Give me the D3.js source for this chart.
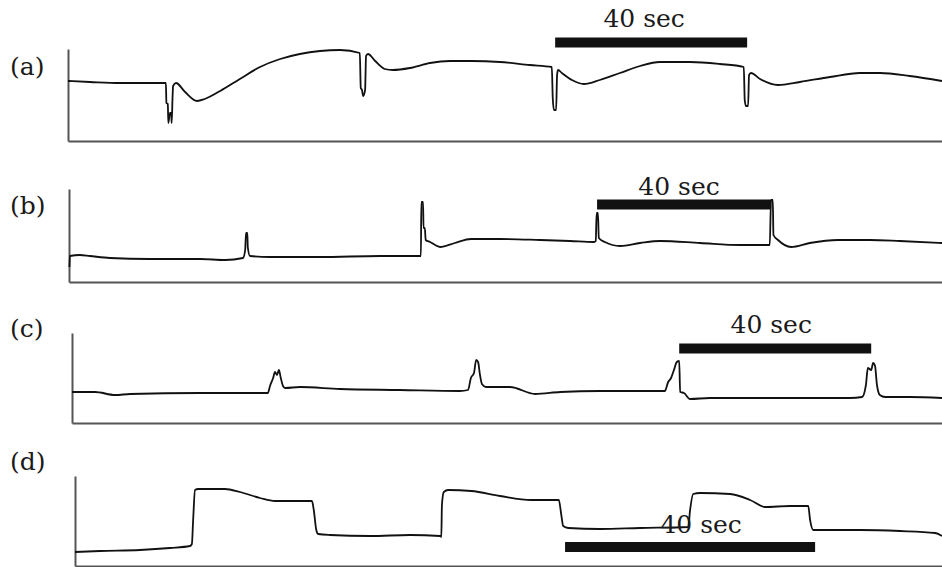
<!DOCTYPE html>
<html>
<head>
<meta charset="utf-8">
<script src="https://cdn.jsdelivr.net/npm/d3@7"></script>
<style>
  body { margin: 0; background: #fff; }
  .trace { fill: none; stroke: #111; stroke-width: 1.8; stroke-linejoin: round; }
  .axis path { stroke: #555; stroke-width: 2; }
  .panel-label, .bar-label { font-family: "DejaVu Serif", serif; fill: #1a1a1a; }
</style>
</head>
<body>
<div id="chart"></div>
<script>

// Panel names
const panelLabels = ["(a)", "(b)", "(c)", "(d)"];

// Length of each recording shown (sec)
const durations = [182.1, 200.7, 181.25, 138.7];

// Scale bar: start time (sec) and length (sec)
const scaleBarStart = [101.5, 121.4, 126.5, 78.4];
const scaleBarLength = 40;
const scaleBarText = "40 sec";

// Traces: [time (sec), signal (a.u.)]
const traceA = [
    [0, 60], [4.6, 59], [10.8, 58], [20.4, 58], [20.5, 38], [20.8, 37], [20.9, 18],
    [21.25, 28], [21.5, 28], [21.6, 18], [21.8, 46], [21.9, 55], [22.5, 58],
    [24.4, 49], [26.9, 40], [28.5, 42], [31.7, 50], [35.8, 62], [40, 74],
    [44.2, 82], [48.3, 87], [52.5, 90], [56.7, 91], [60.8, 88], [61.0, 53],
    [61.25, 51], [61.5, 45], [61.9, 51], [62.1, 85], [62.5, 87], [64, 80],
    [66, 72], [67.7, 71], [71.25, 73], [75.4, 78], [79.6, 80], [84, 80],
    [90, 79], [96.25, 76], [100.8, 74], [101.0, 43], [101.25, 31], [101.7, 31],
    [101.9, 66], [102.1, 71], [102.9, 68], [105, 61], [107.5, 57], [110.8, 61],
    [115, 68], [119.2, 75], [123.3, 79], [129.6, 79], [135.8, 77], [140.8, 74],
    [141.0, 41], [141.25, 35], [141.7, 35], [141.9, 66], [142.3, 68], [144.2, 62],
    [147.9, 56], [152.5, 59], [158.75, 64], [165, 68], [169.2, 68], [175.4, 65],
    [182.1, 60]
];

const traceB = [
    [0.1, 15], [0.2, 26], [2.5, 27], [4.8, 26], [9.4, 24], [18.6, 23], [30.1, 23],
    [35.9, 22], [40, 24], [40.5, 32], [40.7, 49], [41, 49], [41.1, 35], [41.6, 26],
    [46.2, 25], [57.7, 25], [71.5, 26], [80.9, 26], [81.0, 80], [81.4, 80],
    [81.5, 54], [81.8, 54], [82.0, 42], [83.0, 40], [85.3, 35], [88.7, 39],
    [92.4, 43], [99.1, 43], [108.3, 42], [115.2, 41], [120.7, 40], [121.1, 41],
    [121.3, 69], [121.6, 69], [121.8, 44], [123.2, 40], [126.7, 36], [131.3, 39],
    [135.9, 41], [145.1, 39], [154.3, 37], [161.1, 37], [161.4, 82], [161.8, 82],
    [161.95, 47], [163, 42], [166, 35], [170.3, 39], [176.8, 42], [184.1, 42],
    [191, 41], [200.7, 39]
];

const traceC = [
    [0, 31], [4.8, 31], [8.96, 28], [12.1, 29], [26.7, 30], [37.1, 30], [40.8, 30],
    [41.25, 37], [41.9, 45], [42.3, 51], [42.7, 48], [43.1, 53], [43.5, 45],
    [43.96, 37], [44.4, 35], [47.5, 36], [55.8, 34], [68.3, 33], [80.8, 32],
    [82.5, 33], [83.1, 45], [83.75, 50], [84.2, 63], [84.6, 61], [85, 48],
    [85.4, 39], [86.25, 36], [91.25, 36], [96.5, 29], [101.7, 31], [110, 32],
    [123.5, 32], [124.2, 41], [124.8, 45], [125.4, 53], [126.0, 61], [126.5, 62],
    [126.7, 31], [127.5, 30], [128.75, 24], [132.9, 25], [147.5, 25], [162.1, 25],
    [164.6, 26], [165.4, 38], [165.8, 55], [166.5, 53], [166.9, 60], [167.3, 57],
    [167.7, 38], [168.3, 28], [169.4, 26], [174.6, 26], [181.25, 25]
];

const traceD = [
    [0, 14], [4, 15], [10.4, 16], [15.2, 18], [18.4, 20], [18.7, 22], [18.9, 46],
    [19.2, 76], [19.7, 77], [24, 77], [26.4, 74], [29.6, 68], [32, 65], [37.9, 65],
    [38.2, 56], [38.6, 36], [38.9, 32], [40.8, 31], [47.2, 30], [53.6, 31],
    [58.4, 30], [58.6, 29], [58.7, 61], [59.0, 74], [59.7, 76], [63.4, 75],
    [68, 70], [73, 66], [77.4, 66], [77.8, 51], [78.1, 40], [78.9, 38], [84, 37],
    [90.4, 38], [98.1, 39], [98.4, 56], [98.9, 72], [100, 73], [104.8, 72],
    [108, 66], [110.4, 59], [114.4, 60], [117.3, 60], [117.6, 46], [118.1, 36],
    [118.9, 36], [125.6, 36], [132, 35], [137.6, 33], [138.7, 30]
];

const traces = [traceA, traceB, traceC, traceD];

// Layout of each panel (pixels), and where the scale bar and its text sit (signal units)
const layout = [
    {left: 68, top: 49,  bottom: 141, labelY: 75,  barV: 98.5, textV: 114, textDx: -7},
    {left: 69, top: 189, bottom: 282, labelY: 214, barV: 77.5, textV: 87,  textDx: -5},
    {left: 72, top: 333, bottom: 423, labelY: 337, barV: 74.5, textV: 90,  textDx: -4},
    {left: 75, top: 476, bottom: 566, labelY: 470, barV: 19,   textV: 33,  textDx: 11}
];

const width = 942, height = 567;

const svg = d3.select("#chart")
    .append("svg")
        .attr("width", width)
        .attr("height", height);

traces.forEach(function(trace, i) {
    let lay = layout[i];
    let h = lay.bottom - lay.top;

    let x = d3.scaleLinear()
        .domain([0, durations[i]])
        .range([lay.left, width]);

    let y = d3.scaleLinear()
        .domain([0, h])
        .range([lay.bottom, lay.top]);

    let g = svg.append("g").attr("class", "panel");

    // Axes, no ticks
    g.append("g")
        .attr("class", "axis")
        .attr("transform", "translate(" + lay.left + ",0)")
        .call(d3.axisLeft(y).tickValues([]).tickSizeOuter(0));

    g.append("g")
        .attr("class", "axis")
        .attr("transform", "translate(0," + lay.bottom + ")")
        .call(d3.axisBottom(x).tickValues([]).tickSizeOuter(0));

    // The trace
    let line = d3.line()
        .x(d => x(d[0]))
        .y(d => y(d[1]))
        .curve(d3.curveMonotoneX);

    g.append("path")
        .datum(trace)
        .attr("class", "trace")
        .attr("d", line);

    // Scale bar
    let x0 = x(scaleBarStart[i]);
    let x1 = x(scaleBarStart[i] + scaleBarLength);
    g.append("rect")
        .attr("x", x0)
        .attr("y", y(lay.barV) - 5)
        .attr("width", x1 - x0)
        .attr("height", 10)
        .attr("fill", "#111");

    g.append("text")
        .attr("class", "bar-label")
        .attr("x", (x0 + x1) / 2 + lay.textDx)
        .attr("y", y(lay.textV))
        .attr("text-anchor", "middle")
        .attr("font-size", 25)
        .text(scaleBarText);

    // Panel label
    g.append("text")
        .attr("class", "panel-label")
        .attr("x", 10)
        .attr("y", lay.labelY)
        .attr("font-size", 25)
        .text(panelLabels[i]);
});

</script>
</body>
</html>
